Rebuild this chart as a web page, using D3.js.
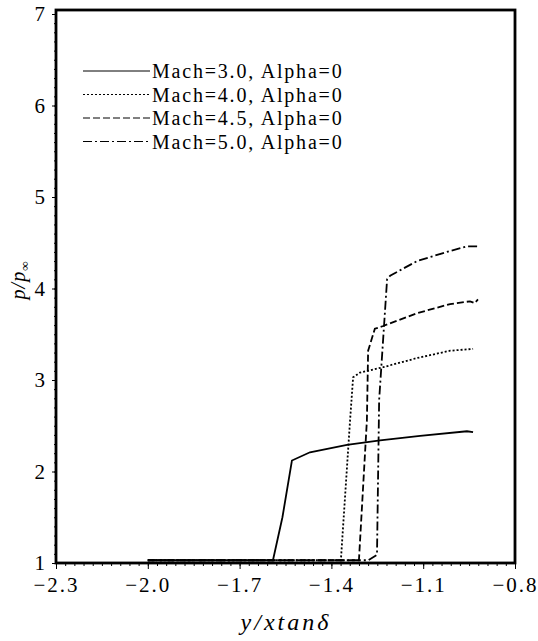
<!DOCTYPE html>
<html>
<head>
<meta charset="utf-8">
<script src="https://cdn.jsdelivr.net/npm/d3@7/dist/d3.min.js"></script>
<style>
  body { margin: 0; background: #fff; }
  text { fill: #000; }
</style>
</head>
<body>
<div id="chart"></div>
<script>
// pressure ratio along the span, one array per Mach number
const xMach30 = [-2.0, -1.591, -1.56, -1.529, -1.47, -1.349, -1.241, -1.11, -0.957, -0.937]
const yMach30 = [1.03, 1.03, 1.50, 2.12, 2.21, 2.29, 2.34, 2.39, 2.44, 2.43]

const xMach40 = [-2.0, -1.369, -1.339, -1.329, -1.307, -1.231, -1.120, -1.012, -0.937]
const yMach40 = [1.03, 1.03, 2.56, 3.03, 3.08, 3.14, 3.24, 3.32, 3.34]

const xMach45 = [-2.0, -1.310, -1.284, -1.280, -1.258, -1.231, -1.120, -1.012, -0.947, -0.932, -0.921]
const yMach45 = [1.03, 1.03, 2.56, 3.32, 3.56, 3.59, 3.73, 3.83, 3.86, 3.84, 3.88]

const xMach50 = [-2.0, -1.280, -1.251, -1.244, -1.218, -1.208, -1.120, -1.012, -0.957, -0.921]
const yMach50 = [1.03, 1.03, 1.09, 2.78, 4.10, 4.14, 4.30, 4.41, 4.46, 4.46]

const legendLabels = ['Mach=3.0, Alpha=0', 'Mach=4.0, Alpha=0', 'Mach=4.5, Alpha=0', 'Mach=5.0, Alpha=0']
const xTicks = [-2.3, -2.0, -1.7, -1.4, -1.1, -0.8]
const yTicks = [1, 2, 3, 4, 5, 6, 7]

const series = [
  { x: xMach30, y: yMach30, dash: null },
  { x: xMach40, y: yMach40, dash: '2,2' },
  { x: xMach45, y: yMach45, dash: '7,3' },
  { x: xMach50, y: yMach50, dash: '9,3,2,3' }
]

const width = 538
const height = 641
const plotLeft = 56, plotRight = 515, plotTop = 14, plotBottom = 563

const svg = d3.select('#chart').append('svg')
  .attr('width', width)
  .attr('height', height)

const x = d3.scaleLinear().domain([-2.3, -0.8]).range([plotLeft, plotRight])
const y = d3.scaleLinear().domain([1, 7]).range([plotBottom, plotTop])

const serif = "'Liberation Serif', 'DejaVu Serif', 'Times New Roman', serif"

// minor ticks
const xMinor = d3.range(0, 51).map(i => -2.3 + i * 0.03)
svg.append('g')
  .attr('transform', `translate(0,${plotBottom})`)
  .call(d3.axisBottom(x).tickValues(xMinor).tickSize(3).tickFormat(''))
  .call(g => g.select('.domain').remove())
const yMinor = d3.range(0, 61).map(i => 1 + i * 0.1)
svg.append('g')
  .attr('transform', `translate(${plotLeft},0)`)
  .call(d3.axisLeft(y).tickValues(yMinor).tickSize(2).tickFormat(''))
  .call(g => g.select('.domain').remove())

// major axes
svg.append('g')
  .attr('transform', `translate(0,${plotBottom})`)
  .call(d3.axisBottom(x).tickValues(xTicks).tickSize(6).tickPadding(8)
    .tickFormat(d => d3.format('.1f')(d).replace('-', '\u2212')))
  .call(g => g.select('.domain').remove())
  .call(g => g.selectAll('text')
    .style('font-family', serif).style('font-size', '21px').style('letter-spacing', '2px'))

svg.append('g')
  .attr('transform', `translate(${plotLeft},0)`)
  .call(d3.axisLeft(y).tickValues(yTicks).tickSize(4).tickPadding(7).tickFormat(d3.format('d')))
  .call(g => g.select('.domain').remove())
  .call(g => g.selectAll('text')
    .style('font-family', serif).style('font-size', '21px'))

// frame
svg.append('rect')
  .attr('x', plotLeft).attr('y', plotTop - 4)
  .attr('width', plotRight - plotLeft).attr('height', plotBottom - plotTop + 4)
  .attr('fill', 'none')
  .attr('stroke', '#000')
  .attr('stroke-width', 2.8)

// curves
const line = d3.line()
  .x(d => x(d[0]))
  .y(d => y(d[1]))

series.forEach(s => {
  svg.append('path')
    .datum(s.x.map((v, i) => [v, s.y[i]]))
    .attr('d', line)
    .attr('fill', 'none')
    .attr('stroke', '#000')
    .attr('stroke-width', 1.8)
    .attr('stroke-dasharray', s.dash)
})

// legend
const legend = svg.append('g')
legendLabels.forEach((label, i) => {
  const ly = 71 + i * 23.5
  legend.append('line')
    .attr('x1', 83).attr('x2', 150)
    .attr('y1', ly).attr('y2', ly)
    .attr('stroke', '#000')
    .attr('stroke-width', 1)
    .attr('stroke-dasharray', series[i].dash)
  legend.append('text')
    .attr('x', 152).attr('y', ly + 7)
    .style('font-family', serif)
    .style('font-size', '20px')
    .style('letter-spacing', '1.8px')
    .text(label)
})

// axis titles
svg.append('text')
  .attr('transform', `translate(25,280) rotate(-90)`)
  .attr('text-anchor', 'middle')
  .style('font-family', serif)
  .style('font-style', 'italic')
  .style('font-size', '20px')
  .style('letter-spacing', '1px')
  .text('p/p')
  .append('tspan')
  .style('font-size', '13px')
  .attr('dy', 4)
  .text('\u221E')

svg.append('text')
  .attr('x', 286).attr('y', 630)
  .attr('text-anchor', 'middle')
  .style('font-family', serif)
  .style('font-style', 'italic')
  .style('font-size', '24px')
  .style('letter-spacing', '3px')
  .text('y/xtan\u03B4')
</script>
</body>
</html>
